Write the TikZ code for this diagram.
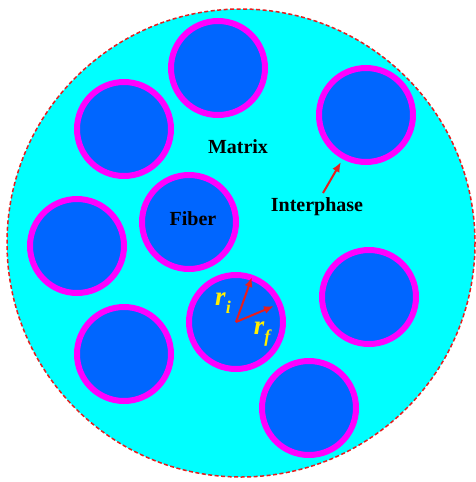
\documentclass[tikz,border=0pt]{standalone}
\usepackage{fontspec}
\setmainfont{Liberation Serif}
\usetikzlibrary{arrows.meta}
\definecolor{matrixc}{RGB}{0,255,255}
\definecolor{fiberc}{RGB}{0,102,255}
\definecolor{interc}{RGB}{255,0,255}
\definecolor{redc}{RGB}{230,30,30}
\definecolor{yel}{RGB}{255,240,0}
\tikzset{
  fiberbox/.style={circle, fill=fiberc, draw=interc, line width=6pt, minimum size=94pt, inner sep=0pt},
  lbl/.style={font=\bfseries\fontsize{20}{22}\selectfont, text=black},
  rlbl/.style={font=\bfseries\itshape\fontsize{27}{29}\selectfont, text=yel, inner sep=0pt},
  arr/.style={draw=redc, line width=2pt, -{Latex[length=10pt,width=8pt]}},
}
\begin{document}
\begin{tikzpicture}[x=1pt,y=-1pt]
\useasboundingbox (0,0) rectangle (476,482);
\fill[white] (0,0) rectangle (476,482);
\draw[fill=matrixc, draw=redc, line width=1.5pt, dash pattern=on 4pt off 2.5pt] (241,243) circle (234);
\node[fiberbox] (f1) at (218,68) {};
\node[fiberbox] (f2) at (124,129) {};
\node[fiberbox] (f3) at (366,115) {};
\node[fiberbox] (f4) at (189,222) {};
\node[fiberbox] (f5) at (77,246) {};
\node[fiberbox] (f6) at (236,322) {};
\node[fiberbox] (f7) at (369,297) {};
\node[fiberbox] (f8) at (124,354) {};
\node[fiberbox] (f9) at (309,408) {};
\node[lbl] (matrix) at (238,147) {Matrix};
\node[lbl] (fiber) at (193,219) {Fiber};
\node[lbl] (inter) at (317,207) {Interphase};
\coordinate (is) at (323,193);
\coordinate (ip) at (341,162);
\draw[arr] (is) -- (ip);
\coordinate (o) at (236,322);
\coordinate (ri) at (252,277);
\coordinate (rf) at (274,306);
\draw[arr] (o) -- (ri);
\draw[arr] (o) -- (rf);
\node[rlbl] (rilbl) at (223,303) {r\raisebox{-0.3em}{\fontsize{18}{18}\selectfont i}};
\node[rlbl] (rflbl) at (262,334) {r\raisebox{-0.3em}{\fontsize{18}{18}\selectfont f}};
\end{tikzpicture}
\end{document}
